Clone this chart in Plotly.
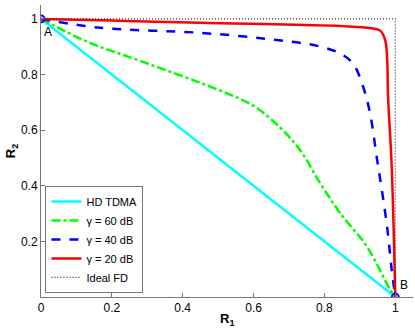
import plotly.graph_objects as go

# rate region boundaries
tdma_r1 = [0, 1]
tdma_r2 = [1, 0]

g60_r1 = [0, 0.138, 0.28, 0.506, 0.599, 0.675, 0.732, 0.788, 0.845, 0.921, 0.986, 1.0]
g60_r2 = [1, 0.914, 0.849, 0.742, 0.688, 0.609, 0.527, 0.409, 0.301, 0.179, 0.025, 0]

g40_r1 = [0, 0.167, 0.449, 0.638, 0.78, 0.845, 0.881, 0.91, 0.929, 0.949, 0.958, 0.977, 0.99, 1.0]
g40_r2 = [1, 0.968, 0.95, 0.928, 0.903, 0.875, 0.839, 0.753, 0.659, 0.491, 0.419, 0.251, 0.097, 0]

g20_r1 = [0, 0.2, 0.449, 0.92, 0.958, 0.972, 0.98, 0.99, 1.0]
g20_r2 = [1, 0.994, 0.986, 0.968, 0.957, 0.921, 0.706, 0.466, 0]

ideal_r1 = [0, 1, 1]
ideal_r2 = [1, 1, 0]

corner_r1 = [0, 1]
corner_r2 = [1, 0]

fig = go.Figure()
fig.add_trace(go.Scatter(x=tdma_r1, y=tdma_r2, mode="lines", name="HD TDMA",
                         line=dict(color="#00ffff", width=2.5)))
fig.add_trace(go.Scatter(x=g60_r1, y=g60_r2, mode="lines", name="γ = 60 dB",
                         line=dict(color="#00ff00", width=2.5, dash="dashdot", shape="spline")))
fig.add_trace(go.Scatter(x=g40_r1, y=g40_r2, mode="lines", name="γ = 40 dB",
                         line=dict(color="#0000ff", width=2.5, dash="dash", shape="spline")))
fig.add_trace(go.Scatter(x=g20_r1, y=g20_r2, mode="lines", name="γ = 20 dB",
                         line=dict(color="#ff0000", width=2.5, shape="spline")))
fig.add_trace(go.Scatter(x=ideal_r1, y=ideal_r2, mode="lines", name="Ideal FD",
                         line=dict(color="#333333", width=1.2, dash="1px,2px")))
fig.add_trace(go.Scatter(x=corner_r1, y=corner_r2, mode="markers", showlegend=False,
                         marker=dict(symbol="circle-open", size=7, color="#0000ff",
                                     line=dict(width=1.8, color="#0000ff"))))

fig.add_annotation(x=0, y=1, text="A", showarrow=False, xanchor="left", yanchor="top",
                   xshift=1, yshift=-4, font=dict(size=12, color="black"))
fig.add_annotation(x=1, y=0, text="B", showarrow=False, xanchor="left", yanchor="bottom",
                   xshift=3, yshift=3, font=dict(size=12, color="black"))

# axis titles as paper annotations for exact placement
fig.add_annotation(xref="paper", yref="paper", x=0.5, y=-0.04, yanchor="top",
                   text="<b>R<sub>1</sub></b>", showarrow=False, font=dict(size=13, color="black"))
fig.add_annotation(xref="paper", yref="paper", x=-0.08, y=0.5, xanchor="center",
                   text="<b>R<sub>2</sub></b>", showarrow=False, textangle=-90,
                   font=dict(size=13, color="black"))

axis_common = dict(showgrid=False, zeroline=False, showline=True, linecolor="#777777",
                   linewidth=1, ticks="inside", ticklen=4, tickcolor="#777777",
                   range=[0, 1.05], tickfont=dict(size=12, color="black"), automargin=False)

fig.update_xaxes(tickvals=[0, 0.2, 0.4, 0.6, 0.8, 1],
                 ticktext=["0", "0.2", "0.4", "0.6", "0.8", "1"], **axis_common)
fig.update_yaxes(tickvals=[0.2, 0.4, 0.6, 0.8, 1],
                 ticktext=["0.2", "0.4", "0.6", "0.8", "1"], **axis_common)

fig.update_layout(
    width=415, height=332,
    margin=dict(l=41, r=2, t=5, b=35),
    paper_bgcolor="white", plot_bgcolor="white",
    font=dict(family="Liberation Sans, Arial, sans-serif", size=12, color="black"),
    legend=dict(x=0.012, y=0.014, xanchor="left", yanchor="bottom",
                bgcolor="white", bordercolor="#777777", borderwidth=1,
                font=dict(size=11), tracegroupgap=0, itemwidth=30),
)

# drop the default page margin so the figure sits at the window's top-left
fig.write_html("out.html", config={"displayModeBar": False},
               post_script="document.body.style.margin='0';")
